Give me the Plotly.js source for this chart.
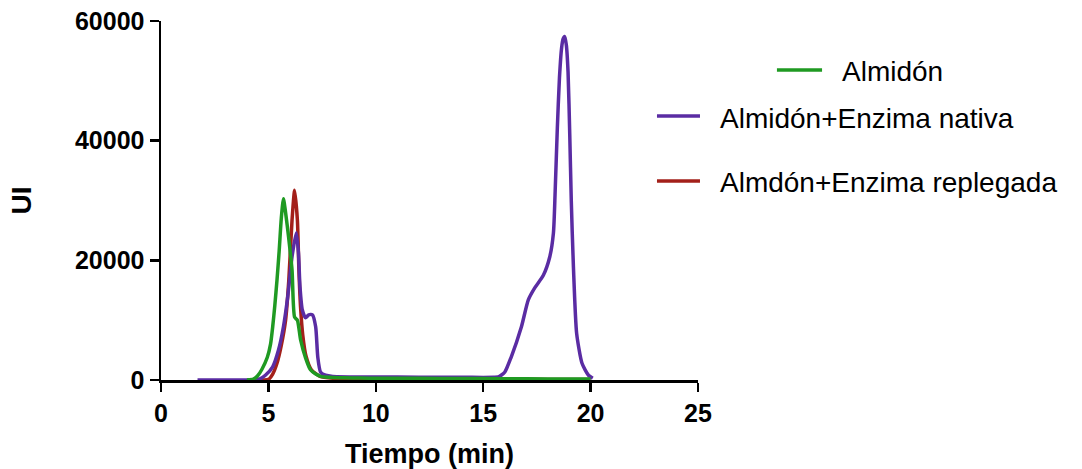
<!DOCTYPE html>
<html>
<head>
<meta charset="utf-8">
<script src="https://cdn.plot.ly/plotly-3.0.1.min.js"></script>
<style>html,body{margin:0;padding:0;background:#fff}#chart{width:1082px;height:469px}</style>
</head>
<body>
<div id="chart"></div>
<script>
// Almidón (green)
var almidonX = [4.0, 4.3, 4.5, 4.7, 4.95, 5.1, 5.2, 5.3, 5.4, 5.5, 5.6, 5.7, 5.8, 5.94, 6.1, 6.22, 6.35, 6.5, 6.73, 6.96, 7.2, 7.43, 7.8, 8.5, 9.3, 10, 12, 14, 16, 18, 20];
var almidonY = [0, 150, 700, 1800, 3800, 6000, 8900, 12500, 16700, 21500, 27000, 30300, 28000, 23900, 18400, 10500, 10000, 6700, 3700, 1700, 1000, 600, 450, 380, 320, 300, 280, 250, 220, 180, 150];

// Almidón+Enzima nativa (purple)
var nativaX = [1.7, 3.0, 4.0, 4.6, 4.86, 5.2, 5.47, 5.7, 5.9, 6.1, 6.3, 6.4, 6.47, 6.58, 6.73, 6.88, 7.05, 7.2, 7.3, 7.43, 7.66, 8.0, 10, 12, 14, 15.0, 15.5, 15.7, 16.0, 16.3, 16.78, 17.1, 17.4, 17.8, 18.1, 18.27, 18.35, 18.45, 18.55, 18.65, 18.72, 18.79, 18.87, 18.95, 19.03, 19.1, 19.2, 19.35, 19.6, 19.9, 20.1];
var nativaY = [0, 0, 0, 200, 800, 2200, 5000, 8900, 13900, 20600, 24600, 21200, 15600, 11700, 10400, 10900, 10900, 8900, 3800, 1300, 800, 600, 500, 480, 450, 430, 450, 500, 1300, 3800, 8900, 13400, 15400, 17500, 20600, 24600, 31500, 42000, 50500, 55500, 57000, 57400, 56000, 51500, 41000, 30000, 18900, 7800, 2800, 800, 300];

// Almdón+Enzima replegada (red)
var replegadaX = [4.6, 5.0, 5.2, 5.4, 5.6, 5.8, 5.95, 6.1, 6.22, 6.35, 6.42, 6.5, 6.6, 6.75, 7.0, 7.4, 8.0, 10, 12, 14, 16, 18, 20];
var replegadaY = [0, 100, 1000, 2800, 5800, 10000, 16700, 26700, 31700, 26700, 18400, 12000, 7500, 4000, 1700, 600, 300, 200, 180, 150, 120, 100, 80];

var seriesNames = ['Almidón', 'Almidón+Enzima nativa', 'Almdón+Enzima replegada'];
var seriesColors = ['#1f9a22', '#5a2ca3', '#a3201a'];

var xTickVals = [0, 5, 10, 15, 20, 25];
var yTickVals = [0, 20000, 40000, 60000];

var lineStyle = function (c) { return {color: c, width: 3.5, shape: 'spline', smoothing: 0.6}; };

var traces = [
  {x: replegadaX, y: replegadaY, name: seriesNames[2], mode: 'lines', line: lineStyle(seriesColors[2])},
  {x: nativaX, y: nativaY, name: seriesNames[1], mode: 'lines', line: lineStyle(seriesColors[1])},
  {x: almidonX, y: almidonY, name: seriesNames[0], mode: 'lines', line: lineStyle(seriesColors[0])}
];

var font = 'Liberation Sans, Arial, sans-serif';

// legend drawn as shapes + annotations (paper coords)
var legendItems = [
  {i: 0, x0: 1.147, x1: 1.231, y: 0.8635, tx: 1.2644, ty: 0.858},
  {i: 1, x0: 0.9236, x1: 1.0037, y: 0.7354, tx: 1.0372, ty: 0.7298},
  {i: 2, x0: 0.9236, x1: 1.0037, y: 0.5543, tx: 1.0372, ty: 0.5515}
];
var shapes = legendItems.map(function (it) {
  return {type: 'line', xref: 'paper', yref: 'paper', x0: it.x0, x1: it.x1, y0: it.y, y1: it.y,
          line: {color: seriesColors[it.i], width: 3.5}};
});
var annotations = legendItems.map(function (it) {
  return {xref: 'paper', yref: 'paper', x: it.tx, y: it.ty, xanchor: 'left', yanchor: 'middle',
          text: seriesNames[it.i], showarrow: false, font: {family: font, size: 28, color: '#000'}};
});

var layout = {
  width: 1082, height: 469,
  margin: {l: 161, r: 384, t: 21, b: 89},
  paper_bgcolor: '#fff', plot_bgcolor: '#fff',
  showlegend: false,
  font: {family: font, color: '#000'},
  xaxis: {
    range: [0, 25], tickvals: xTickVals, ticktext: xTickVals.map(String),
    showgrid: false, zeroline: false, showline: true, linecolor: '#000', linewidth: 2.5,
    ticks: 'outside', ticklen: 9, tickwidth: 2.5, tickcolor: '#000',
    tickfont: {family: font, size: 25, weight: 'bold', color: '#000'},
    title: {text: 'Tiempo (min)', font: {family: font, size: 27, weight: 'bold', color: '#000'}, standoff: 21},
    automargin: false
  },
  yaxis: {
    range: [0, 60000], tickvals: yTickVals, ticktext: yTickVals.map(String),
    showgrid: false, zeroline: false, showline: true, linecolor: '#000', linewidth: 2.5,
    ticks: 'outside', ticklen: 9, tickwidth: 2.5, tickcolor: '#000',
    tickfont: {family: font, size: 25, weight: 'bold', color: '#000'},
    title: {text: 'UI', font: {family: font, size: 28, weight: 'bold', color: '#000'}, standoff: 35},
    automargin: false
  },
  shapes: shapes,
  annotations: annotations
};

Plotly.newPlot('chart', traces, layout, {displayModeBar: false, staticPlot: true});
</script>
</body>
</html>
